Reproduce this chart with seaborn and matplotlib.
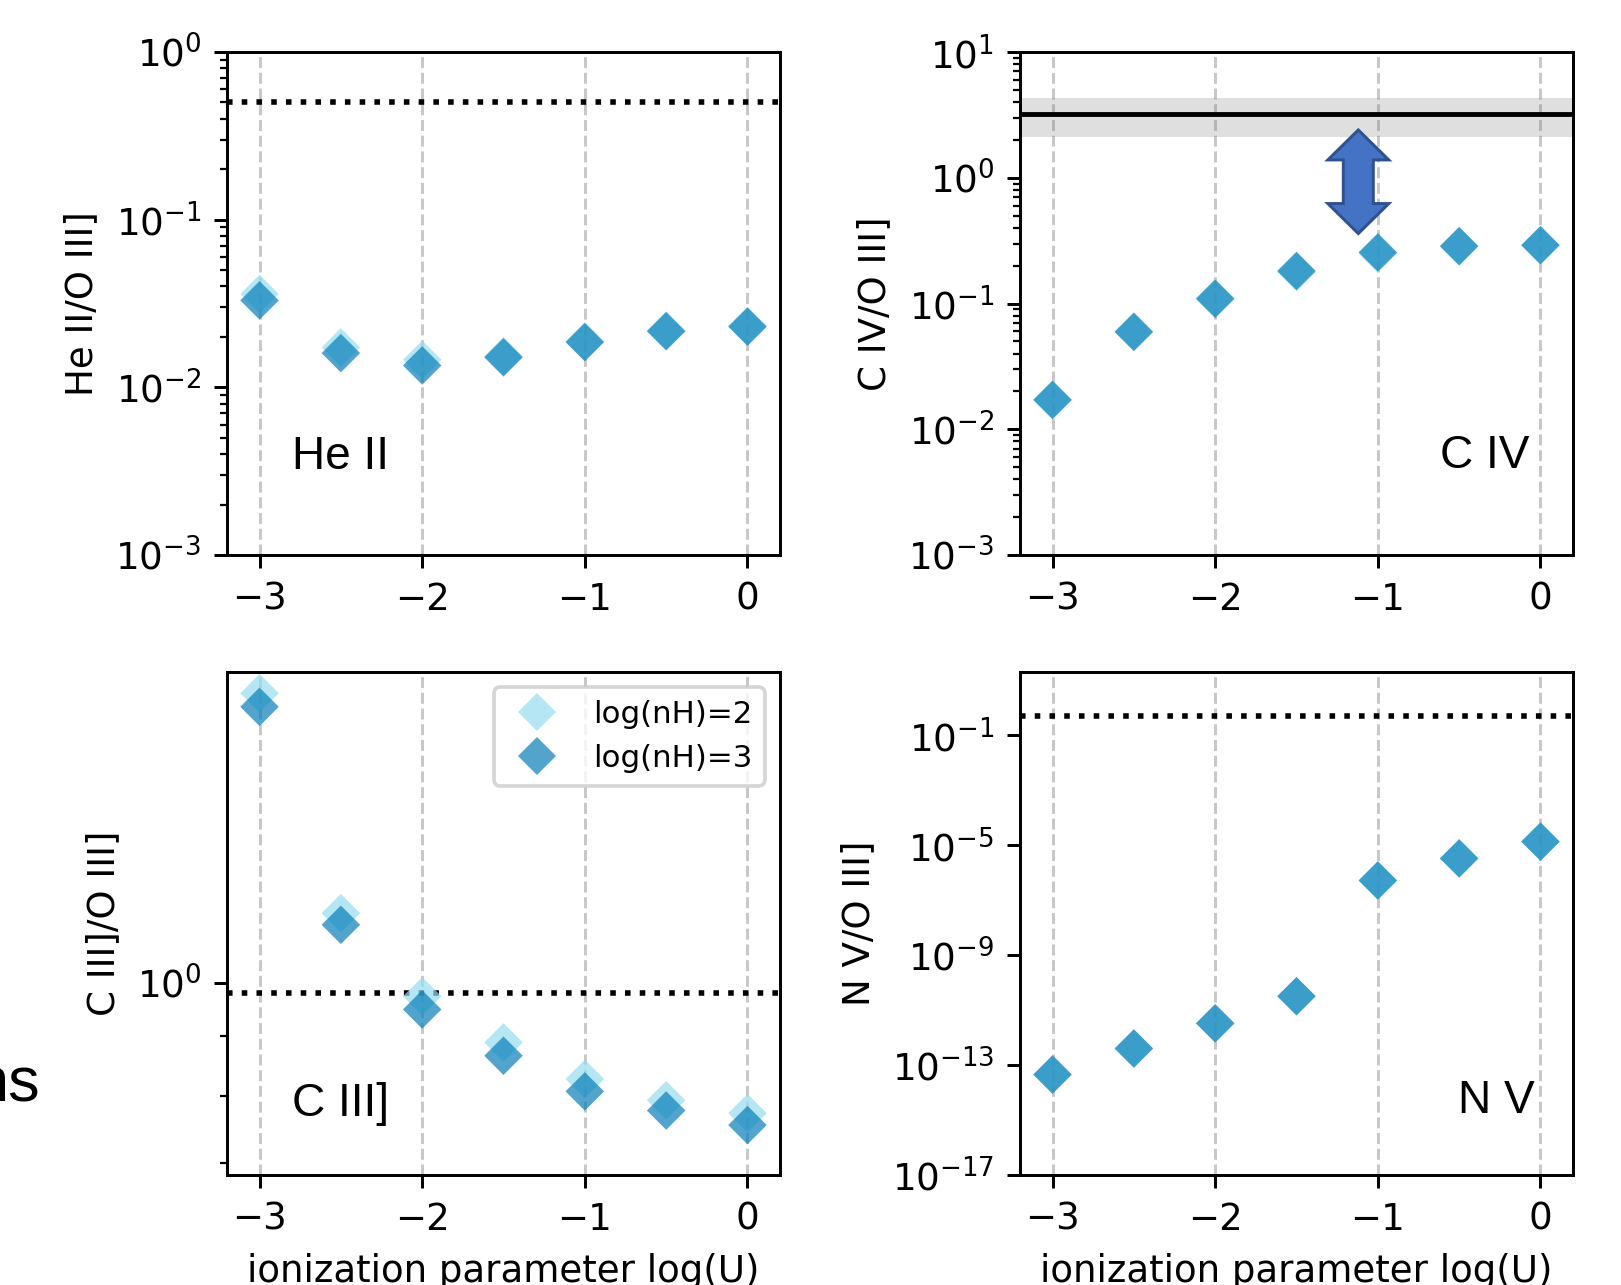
import numpy as np
import pandas as pd
import matplotlib
matplotlib.use("Agg")
import matplotlib.pyplot as plt
import matplotlib.ticker as mticker
from matplotlib.patches import Polygon
import seaborn as sns

# ---------------- data ----------------
logU = [-3.0, -2.5, -2.0, -1.5, -1.0, -0.5, 0.0]
density_labels = ["log(nH)=2", "log(nH)=3"]

heii_n2 = [0.036, 0.0173, 0.0146, 0.0153, 0.0188, 0.0218, 0.0232]
heii_n3 = [0.0330, 0.0160, 0.0135, 0.0151, 0.0186, 0.0216, 0.0230]

civ_n2 = [0.0172, 0.0600, 0.110, 0.178, 0.250, 0.284, 0.290]
civ_n3 = [0.0171, 0.0594, 0.109, 0.1815, 0.255, 0.286, 0.291]

ciii_n2 = [1.774, 1.148, 0.974, 0.889, 0.827, 0.793, 0.773]
ciii_n3 = [1.727, 1.122, 0.949, 0.866, 0.807, 0.777, 0.755]

nv_n2 = [4.6e-14, 4.0e-13, 3.3e-12, 3.2e-11, 5.2e-7, 3.3e-6, 1.35e-5]
nv_n3 = [4.5e-14, 4.0e-13, 3.3e-12, 3.2e-11, 5.2e-7, 3.3e-6, 1.35e-5]

heii_obs = 0.5
civ_obs = 3.2
civ_obs_band = (2.1, 4.3)
ciii_obs = 0.98
nv_obs = 0.5

# arrow annotation (C IV panel)
arrow_x = -1.12
arrow_top = 2.4
arrow_bottom = 0.36

panel_names = ["He II", "C IV", "C III]", "N V"]
ylabels = ["He II/O III]", "C IV/O III]", "C III]/O III]", "N V/O III]"]
xlabel = "ionization parameter log(U)"

# ---------------- style ----------------
sns.set_style("ticks")
plt.rcParams.update({
    "font.family": ["DejaVu Sans"],
    "axes.edgecolor": "black",
    "axes.labelcolor": "black",
    "text.color": "black",
    "xtick.color": "black",
    "ytick.color": "black",
    "axes.linewidth": 0.8,
    "xtick.major.size": 3.5,
    "ytick.major.size": 3.5,
    "ytick.minor.size": 2.0,
    "xtick.major.width": 0.8,
    "ytick.major.width": 0.8,
    "ytick.minor.width": 0.6,
    "font.size": 10,
    "axes.labelsize": 10,
    "xtick.labelsize": 10,
    "ytick.labelsize": 10,
    "legend.fontsize": "small",
})

light_col = "#94DEEF"
dark_col = "#087EB9"
palette = {density_labels[0]: light_col, density_labels[1]: dark_col}

DPI = 267
fig = plt.figure(figsize=(1621 / DPI, 1285 / DPI), dpi=DPI)

W, H = 1621.0, 1285.0
ax_w, ax_h = 553 / W, 503 / H
lefts = [227 / W, 1020 / W]
bottoms = [1 - 555 / H, 1 - 1175 / H]

axes = []
for r in range(2):
    for c in range(2):
        axes.append(fig.add_axes([lefts[c], bottoms[r], ax_w, ax_h]))

series = [(heii_n2, heii_n3), (civ_n2, civ_n3), (ciii_n2, ciii_n3), (nv_n2, nv_n3)]
ylims = [(1e-3, 1.0), (1e-3, 10.0), (0.684, 1.85), (1e-17, 20.0)]

for i, ax in enumerate(axes):
    n2, n3 = series[i]
    df = pd.DataFrame({
        "logU": logU + logU,
        "ratio": list(n2) + list(n3),
        "density": [density_labels[0]] * len(logU) + [density_labels[1]] * len(logU),
    })
    ax.set_yscale("log")
    ax.grid(axis="x", color="#c8c8c8", linestyle="--", linewidth=0.8)
    ax.set_axisbelow(True)
    sns.scatterplot(data=df, x="logU", y="ratio", hue="density",
                    hue_order=density_labels, palette=palette,
                    marker="D", s=54, alpha=0.7, linewidth=0,
                    ax=ax, legend=(i == 2), zorder=3)
    ax.set_xlim(-3.2, 0.2)
    ax.set_ylim(*ylims[i])
    ax.set_xticks([-3, -2, -1, 0])
    ax.set_ylabel(ylabels[i])
    ax.set_xlabel(xlabel if i >= 2 else "")

# reference lines
axes[0].axhline(heii_obs, color="black", linestyle=":", linewidth=1.5, zorder=2)
axes[1].axhspan(civ_obs_band[0], civ_obs_band[1], color="gray", alpha=0.25, linewidth=0, zorder=1)
axes[1].axhline(civ_obs, color="black", linestyle="-", linewidth=1.3, zorder=2)
axes[2].axhline(ciii_obs, color="black", linestyle=":", linewidth=1.5, zorder=2)
axes[3].axhline(nv_obs, color="black", linestyle=":", linewidth=1.5, zorder=2)

# tick tweaks
axes[2].yaxis.set_minor_formatter(mticker.NullFormatter())
axes[3].set_yticks([1e-17, 1e-13, 1e-9, 1e-5, 1e-1])
axes[3].yaxis.set_minor_locator(mticker.NullLocator())

# legend
sns.move_legend(axes[2], "upper right", title=None, frameon=True,
                fontsize="small")

# panel names
label_font = ["Liberation Sans", "DejaVu Sans"]
axes[0].text(0.118, 0.170, panel_names[0], transform=axes[0].transAxes,
             ha="left", va="baseline", fontsize=12.4, family=label_font)
axes[1].text(0.922, 0.173, panel_names[1], transform=axes[1].transAxes,
             ha="right", va="baseline", fontsize=12.4, family=label_font)
axes[2].text(0.118, 0.117, panel_names[2], transform=axes[2].transAxes,
             ha="left", va="baseline", fontsize=12.4, family=label_font)
axes[3].text(0.931, 0.123, panel_names[3], transform=axes[3].transAxes,
             ha="right", va="baseline", fontsize=12.4, family=label_font)

# clipped fragment of text at left edge
fig.text(40 / W, 1 - 1102 / H, "ns", ha="right", va="baseline",
         fontsize=17, family=label_font)

# double-headed block arrow on C IV panel
ax = axes[1]
p_top = ax.transData.transform((arrow_x, arrow_top))
p_bot = ax.transData.transform((arrow_x, arrow_bottom))
head_hw, shaft_hw, head_len = 30.5, 15.0, 30.0  # pixels
cx = p_top[0]
yt, yb = p_top[1], p_bot[1]
verts_px = np.array([
    [cx, yt],
    [cx + head_hw, yt - head_len],
    [cx + shaft_hw, yt - head_len],
    [cx + shaft_hw, yb + head_len],
    [cx + head_hw, yb + head_len],
    [cx, yb],
    [cx - head_hw, yb + head_len],
    [cx - shaft_hw, yb + head_len],
    [cx - shaft_hw, yt - head_len],
    [cx - head_hw, yt - head_len],
])
verts_ax = ax.transAxes.inverted().transform(verts_px)
ax.add_patch(Polygon(verts_ax, closed=True, transform=ax.transAxes,
                     facecolor="#4472C4", edgecolor="#2F528F",
                     linewidth=0.8, zorder=5))

fig.savefig("out.png", dpi=DPI)
